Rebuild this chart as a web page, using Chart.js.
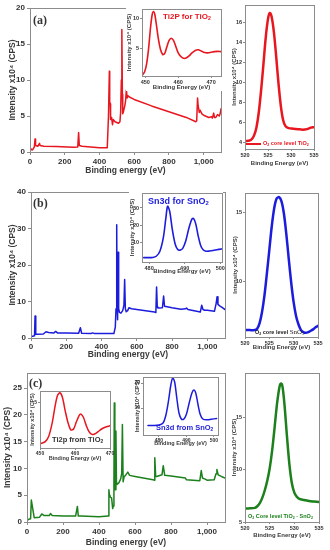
<!DOCTYPE html>
<html><head><meta charset="utf-8">
<script src="https://cdn.jsdelivr.net/npm/chart.js@4.4.1/dist/chart.umd.min.js"></script>
<style>
html,body{margin:0;padding:0;background:#fff;}
#wrap{position:relative;width:330px;height:550px;overflow:hidden;background:#fff;font-family:'Liberation Sans',Arial,sans-serif;}
#wrap canvas{position:absolute;left:0;top:0;}
.t{position:absolute;white-space:nowrap;font-weight:bold;line-height:1;}
.t sub{font-size:65%;vertical-align:-0.25em;line-height:0;}
.serif{font-family:'Liberation Serif','Times New Roman',serif;}
</style></head><body><div id="wrap"></div>
<script>
// ===== DATA =====
// Survey spectra (Binding energy eV / Intensity x10^4 CPS)
const surveyTiO2_E = [0,8,15,25,29,32,45,55,58,80,150,250,275,280,284,300,400,445,452,457,459,462,464,470,475,480,490,510,518,522,526,529,532,534,538,545,550,555,560,565,575,600,700,800,900,955,960,965,968,975,980,990,1000,1030,1045,1050,1058,1062,1070,1080,1090,1095,1100];
const surveyTiO2_I = [0.1,0.4,0.3,0.7,1.8,0.9,0.8,1.2,0.9,0.8,0.75,0.65,0.7,2.7,0.9,0.8,0.6,0.6,5,11.2,7,6.7,4.5,4.8,3.8,4.5,4.2,4.0,4.2,5.5,10,17,8,5.3,5.6,6.3,7.0,8.6,7.5,7.8,7.6,7.3,6.4,5.6,4.8,4.2,4.3,7.5,6.5,5.5,5.8,5.3,5.1,4.8,4.9,4.7,5.4,4.8,4.8,5.2,5.0,5.3,6.0];

const surveySnO2_E = [0,10,20,23,27,40,70,85,100,130,140,150,200,270,280,287,340,350,360,470,478,482,486,488,491,494,497,502,510,520,527,531,535,540,548,555,570,600,700,708,712,716,720,745,752,757,800,850,875,882,890,960,968,975,985,1000,1040,1050,1055,1060,1070,1085,1100];
const surveySnO2_I = [0.3,0.5,0.6,6,1.0,1.0,1.1,1.7,1.5,1.4,1.8,1.4,1.35,1.3,2.8,1.3,1.25,1.4,1.2,1.2,3,8,31,10,5,23.5,8,7,6.8,7.5,9,16,8,7.2,7.5,8.3,8,7.8,7.1,7.0,14,8.5,8.2,8.3,11.5,8.7,8.3,7.9,8.0,8.2,7.8,7.1,9,7.8,7.6,7.6,7.3,9.5,11.3,9.2,8.8,8.3,7.8];

const surveyMix_E = [0,10,20,24,40,70,82,95,125,130,140,200,270,280,285,300,400,450,455,458,461,464,470,476,480,483,485,488,491,494,497,500,510,520,526,530,534,540,545,560,570,600,700,706,710,715,720,750,757,765,800,880,885,960,968,975,990,1000,1040,1050,1055,1062,1080,1100];
const surveyMix_I = [0.3,0.5,0.6,4.1,0.8,0.9,1.5,1.2,1.2,1.6,1.2,1.1,1.1,2.9,1.1,1.1,1.0,1.1,6,5,4.8,4.6,4.5,2.5,3,8,22.2,8,6,17,7.5,7,7.3,8,9,18.2,7.5,8.5,8.6,9.3,8.7,8.5,7.9,7.8,12,8.5,8.5,8.8,10.5,8.7,8.6,8.2,7.9,7.7,9.6,8.2,8.0,7.8,7.9,9.0,9.8,8.8,8.5,8.2];

// Insets
const ti2pTiO2_E = [449.2,449.8,450.4,451,451.6,452.1,452.5,452.9,453.4,454,454.6,455.3,455.9,456.5,457.2,457.9,458.6,459.3,460,460.8,461.6,462.4,463.3,464.2,465.2,466.1,467,468,469,470,471,472,473];
const ti2pTiO2_I = [0.7,1.2,2.5,5,8.5,10.6,11.1,10.6,8.8,6.5,4.9,4.0,4.2,5.2,6.3,6.7,6.3,5.3,4.3,3.7,3.4,3.45,3.8,4.3,4.7,4.8,4.6,4.35,4.3,4.4,4.5,4.55,4.5];

const sn3dSnO2_E = [478.5,480,481,482,483,484,484.7,485.2,485.8,486.5,487.3,488,488.7,489.5,490.3,491.2,492,492.5,493.1,493.8,494.5,495.2,496,497,498,499,500.3];
const sn3dSnO2_I = [1.5,1.5,1.6,2.3,5,13,24,31,28,18,9.5,6.3,5.8,7,11,18.5,23.5,24,21,14,8.5,6,5.2,5.3,5.6,6,6.5];

const ti2pMix_E = [450.3,451.5,452.5,453.5,454.3,455,455.7,456.4,457.2,458,458.8,459.6,460.4,461.2,461.7,462.4,463.2,464,464.8,465.6,466.6,467.6,468.6,470];
const ti2pMix_I = [0.5,0.7,1.3,2.8,4.6,5.8,6.1,5.6,4.1,2.8,2.0,2.1,2.9,3.6,3.75,3.4,2.5,1.8,1.5,1.55,1.8,2.1,2.3,2.45];

const sn3dMix_E = [476,478,480,481.5,482.5,483.5,484.3,485,485.7,486.5,487.3,488.2,489,490,491,492,492.7,493.4,494.2,495,496,497.5,499,501];
const sn3dMix_I = [3,3,3.2,4,7,13,19,22,20.5,14,8,5.5,5.5,7.5,12,16,17.2,16,11.5,7.5,5.6,5.3,5.5,5.8];

// O1s core levels
const o1sTiO2_E = [520,521,521.5,522,522.5,523,523.5,524,524.5,525,525.4,525.8,526.3,526.8,527.3,527.8,528.3,528.8,529.5,530.5,531.5,532.5,533.5,534.3,535];
const o1sTiO2_I = [4.1,4.15,4.3,4.7,5.5,7.0,9.2,11.8,14.5,16.4,17.0,16.6,15.0,12.5,9.8,7.6,6.2,5.6,5.4,5.35,5.3,5.25,5.3,5.45,5.5];

const o1sSnO2_E = [520,521,522,522.5,523,523.5,524,524.5,525,525.5,526,526.5,527,527.5,528,528.5,529,529.5,530,530.5,531,531.5,532,532.5,533,533.5,534,534.5,535];
const o1sSnO2_I = [6.5,6.5,6.5,6.6,7.0,7.8,9.0,10.6,12.3,14.0,15.3,16.0,16.1,15.8,14.9,13.4,11.6,9.9,8.5,7.5,6.9,6.5,6.35,6.3,6.35,6.45,6.55,6.7,6.8];

const o1sMix_E = [520,521,522,522.5,523,523.5,524,524.5,525,525.5,526,526.5,527,527.3,527.6,528,528.5,529,529.5,530,530.5,531,532,533,534,535];
const o1sMix_I = [6.3,6.3,6.35,6.5,6.8,7.3,8.0,8.9,10.1,11.8,14.0,16.3,17.9,18.2,17.9,16.2,13.2,10.5,8.7,7.8,7.4,7.2,7.1,7.0,6.95,6.9];

// Tick values
const surveyXTicks = [0,200,400,600,800,1000];
const surveyTiO2_YTicks = [0,5,10,15,20];
const surveySnO2_YTicks = [0,10,20,30,40];
const surveyMix_YTicks = [0,5,10,15,20,25];
const ti2pXTicks = [450,460,470];
const sn3dXTicks = [480,490,500];
const ti2pTiO2_YTicks = [5,10];
const sn3dSnO2_YTicks = [10,20,30];
const ti2pMix_YTicks = [5];
const sn3dMix_YTicks = [10,20];
const o1sXTicks = [520,525,530,535];
const o1sTiO2_YTicks = [4,6,8,10,12,14,16];
const o1sSnO2_YTicks = [10,15];
const o1sMix_YTicks = [5,10,15];

const RED = 'rgb(232,22,30)', BLUE = 'rgb(28,28,220)', GREEN = 'rgb(28,128,28)';
const YTITLE = 'Intensity x10\u2074 (CPS)';

// ===== DRAWING =====
const wrap = document.getElementById('wrap');
const W = 330, H = 550;

const framePlugin = {
  id: 'frame',
  beforeDraw(chart, args, opts) {
    if (!opts.white) return;
    const ctx = chart.ctx, a = chart.chartArea, w = opts.white;
    ctx.save(); ctx.fillStyle = '#fff';
    ctx.fillRect(a.left - w[0], a.top - w[1], a.right - a.left + w[0] + w[2], a.bottom - a.top + w[1] + w[3]);
    ctx.restore();
  },
  afterDraw(chart) {
    const ctx = chart.ctx, a = chart.chartArea;
    ctx.save(); ctx.strokeStyle = '#8c8c8c'; ctx.lineWidth = 1;
    ctx.strokeRect(Math.round(a.left) + 0.5, Math.round(a.top) + 0.5, Math.round(a.right - a.left), Math.round(a.bottom - a.top));
    ctx.restore();
  }
};

function makeChart(c) {
  const cv = document.createElement('canvas');
  cv.width = W; cv.height = H;
  cv.style.width = W + 'px'; cv.style.height = H + 'px';
  wrap.appendChild(cv);
  const tf = {family: "'Liberation Sans', Arial, sans-serif", size: c.tickSize, weight: 'bold'};
  const ttf = {family: "'Liberation Sans', Arial, sans-serif", size: c.titleSize, weight: 'bold'};
  return new Chart(cv, {
    type: 'line',
    data: {datasets: [{
      data: c.xs.map((x, i) => ({x: x, y: c.ys[i]})),
      borderColor: c.color, borderWidth: c.lw, pointRadius: 0, tension: c.tension || 0, fill: false,
      borderJoinStyle: 'round', borderCapStyle: 'round'
    }]},
    options: {
      responsive: false, animation: false, devicePixelRatio: 1,
      layout: {padding: {left: c.L - c.yw, top: c.T, right: W - c.R, bottom: H - c.B - c.xh}},
      plugins: {legend: {display: false}, tooltip: {enabled: false}, frame: {white: c.white}},
      scales: {
        x: {
          type: 'linear', min: c.xmin, max: c.xmax,
          afterBuildTicks: s => { s.ticks = c.xticks.map(v => ({value: v})); },
          afterFit: s => { s.height = c.xh; s.paddingLeft = 0; s.paddingRight = 0; },
          grid: {display: true, drawOnChartArea: false, tickLength: c.tl, color: '#8c8c8c'},
          border: {display: true, color: '#8c8c8c'},
          ticks: {font: tf, color: '#333', padding: c.xpad, maxRotation: 0, autoSkip: false},
          title: {display: true, text: 'Binding ' + (c.main ? 'energy' : 'Energy') + ' (eV)', font: ttf, color: '#3a3a3a', padding: 0}
        },
        y: {
          type: 'linear', min: c.ymin, max: c.ymax,
          afterBuildTicks: s => { s.ticks = c.yticks.map(v => ({value: v})); },
          afterFit: s => { s.width = c.yw; s.paddingTop = 0; s.paddingBottom = 0; },
          grid: {display: true, drawOnChartArea: false, tickLength: c.tl, color: '#8c8c8c'},
          border: {display: true, color: '#8c8c8c'},
          ticks: {font: tf, color: '#333', padding: c.ypad, autoSkip: false},
          title: {display: true, text: YTITLE, font: ttf, color: '#3a3a3a', padding: 0}
        }
      }
    },
    plugins: [framePlugin]
  });
}

// Main survey panels
makeChart({xs: surveyTiO2_E, ys: surveyTiO2_I, color: RED, lw: 1.5, L: 30, T: 8, R: 221, B: 152, yw: 22, xh: 24,
  xmin: 0, xmax: 1100, ymin: 0, ymax: 20, xticks: surveyXTicks, yticks: surveyTiO2_YTicks,
  tickSize: 8, titleSize: 8.5, tl: 3, xpad: 2, ypad: 2, main: true});
makeChart({xs: surveySnO2_E, ys: surveySnO2_I, color: BLUE, lw: 1.5, L: 31, T: 192, R: 225, B: 338, yw: 23, xh: 22,
  xmin: 0, xmax: 1100, ymin: 0, ymax: 40, xticks: surveyXTicks, yticks: surveySnO2_YTicks,
  tickSize: 8, titleSize: 8.5, tl: 3, xpad: 1, ypad: 2, main: true});
makeChart({xs: surveyMix_E, ys: surveyMix_I, color: GREEN, lw: 1.5, L: 27, T: 373, R: 225, B: 522, yw: 24, xh: 26,
  xmin: 0, xmax: 1100, ymin: 0, ymax: 27.8, xticks: surveyXTicks, yticks: surveyMix_YTicks,
  tickSize: 8, titleSize: 8.5, tl: 3, xpad: 2, ypad: 2, main: true});

// Insets
makeChart({xs: ti2pTiO2_E, ys: ti2pTiO2_I, color: RED, lw: 1.6, tension: 0.3, L: 142, T: 9, R: 221, B: 76, yw: 16, xh: 15,
  xmin: 449, xmax: 473, ymin: 0.5, ymax: 11.5, xticks: ti2pXTicks, yticks: ti2pTiO2_YTicks,
  tickSize: 5.5, titleSize: 6, tl: 2, xpad: 1, ypad: 1, white: [16, 1, 1, 15]});
makeChart({xs: sn3dSnO2_E, ys: sn3dSnO2_I, color: BLUE, lw: 1.6, tension: 0.3, L: 142, T: 193, R: 222, B: 262, yw: 13, xh: 13,
  xmin: 478, xmax: 500.5, ymin: -1, ymax: 38.6, xticks: sn3dXTicks, yticks: sn3dSnO2_YTicks,
  tickSize: 5.5, titleSize: 6, tl: 2, xpad: 1, ypad: 1, white: [13, 1, 1, 13]});
makeChart({xs: ti2pMix_E, ys: ti2pMix_I, color: RED, lw: 1.5, tension: 0.3, L: 40, T: 391, R: 110, B: 448, yw: 11, xh: 14,
  xmin: 450, xmax: 470, ymin: 0, ymax: 6.3, xticks: ti2pXTicks, yticks: ti2pMix_YTicks,
  tickSize: 5, titleSize: 5.5, tl: 2, xpad: 1, ypad: 1, white: [11, 1, 1, 14]});
makeChart({xs: sn3dMix_E, ys: sn3dMix_I, color: BLUE, lw: 1.5, tension: 0.3, L: 143, T: 377, R: 218, B: 435, yw: 9, xh: 12,
  xmin: 474.2, xmax: 501.5, ymin: -0.8, ymax: 22.4, xticks: sn3dXTicks, yticks: sn3dMix_YTicks,
  tickSize: 5, titleSize: 5.5, tl: 2, xpad: 1, ypad: 1, white: [9, 1, 1, 12]});

// O1s side panels
makeChart({xs: o1sTiO2_E, ys: o1sTiO2_I, color: RED, lw: 2.5, tension: 0.3, L: 245, T: 5, R: 314, B: 149, yw: 14, xh: 18,
  xmin: 520, xmax: 535, ymin: 3.3, ymax: 17.8, xticks: o1sXTicks, yticks: o1sTiO2_YTicks,
  tickSize: 5.5, titleSize: 6, tl: 2, xpad: 1, ypad: 1});
makeChart({xs: o1sSnO2_E, ys: o1sSnO2_I, color: BLUE, lw: 2.5, tension: 0.3, L: 245, T: 193, R: 318, B: 337, yw: 13, xh: 14,
  xmin: 520, xmax: 535, ymin: 6.0, ymax: 16.4, xticks: o1sXTicks, yticks: o1sSnO2_YTicks,
  tickSize: 5.5, titleSize: 6, tl: 2, xpad: 1, ypad: 1});
makeChart({xs: o1sMix_E, ys: o1sMix_I, color: GREEN, lw: 2.5, tension: 0.3, L: 245, T: 373, R: 319, B: 522, yw: 14, xh: 17,
  xmin: 520, xmax: 535, ymin: 5, ymax: 19.2, xticks: o1sXTicks, yticks: o1sMix_YTicks,
  tickSize: 5.5, titleSize: 6, tl: 2, xpad: 1, ypad: 1});

// ===== TEXT ANNOTATIONS =====
function label(html, x, y, css) {
  const d = document.createElement('div');
  d.className = 't' + (css.cls ? ' ' + css.cls : '');
  d.innerHTML = html;
  d.style.left = x + 'px'; d.style.top = y + 'px';
  for (const k in css) if (k !== 'cls') d.style[k] = css[k];
  wrap.appendChild(d);
  return d;
}
label('(a)', 33, 14, {cls: 'serif', fontSize: '12px', color: '#333'});
label('(b)', 33, 197, {cls: 'serif', fontSize: '12px', color: '#333'});
label('(c)', 29, 377, {cls: 'serif', fontSize: '12px', color: '#333'});

label('Ti2P for TiO<sub>2</sub>', 163, 13, {fontSize: '8px', color: RED});
label('Sn3d for SnO<sub>2</sub>', 148, 197, {fontSize: '9px', color: BLUE});
label('Ti2p from TiO<sub>2</sub>', 52, 436, {fontSize: '7.5px', color: '#333'});
label('Sn3d from SnO<sub>2</sub>', 156, 424, {fontSize: '7.5px', color: BLUE});

// side legends
const seg = document.createElement('div');
seg.style.cssText = 'position:absolute;left:246px;top:143px;width:15px;height:2px;background:' + RED + ';';
wrap.appendChild(seg);
label('O<sub>2</sub> core level TiO<sub>2</sub>', 263, 141, {fontSize: '5.5px', color: RED});
label('O<sub>2</sub> core level <span class="serif" style="font-size:7px;font-weight:normal">SnO<sub>2</sub></span>', 255, 329, {fontSize: '5.5px', color: '#222'});
label('O<sub>2</sub> Core level TiO<sub>2</sub> - SnO<sub>2</sub>', 248, 514, {fontSize: '5.5px', color: GREEN});
</script></body></html>
